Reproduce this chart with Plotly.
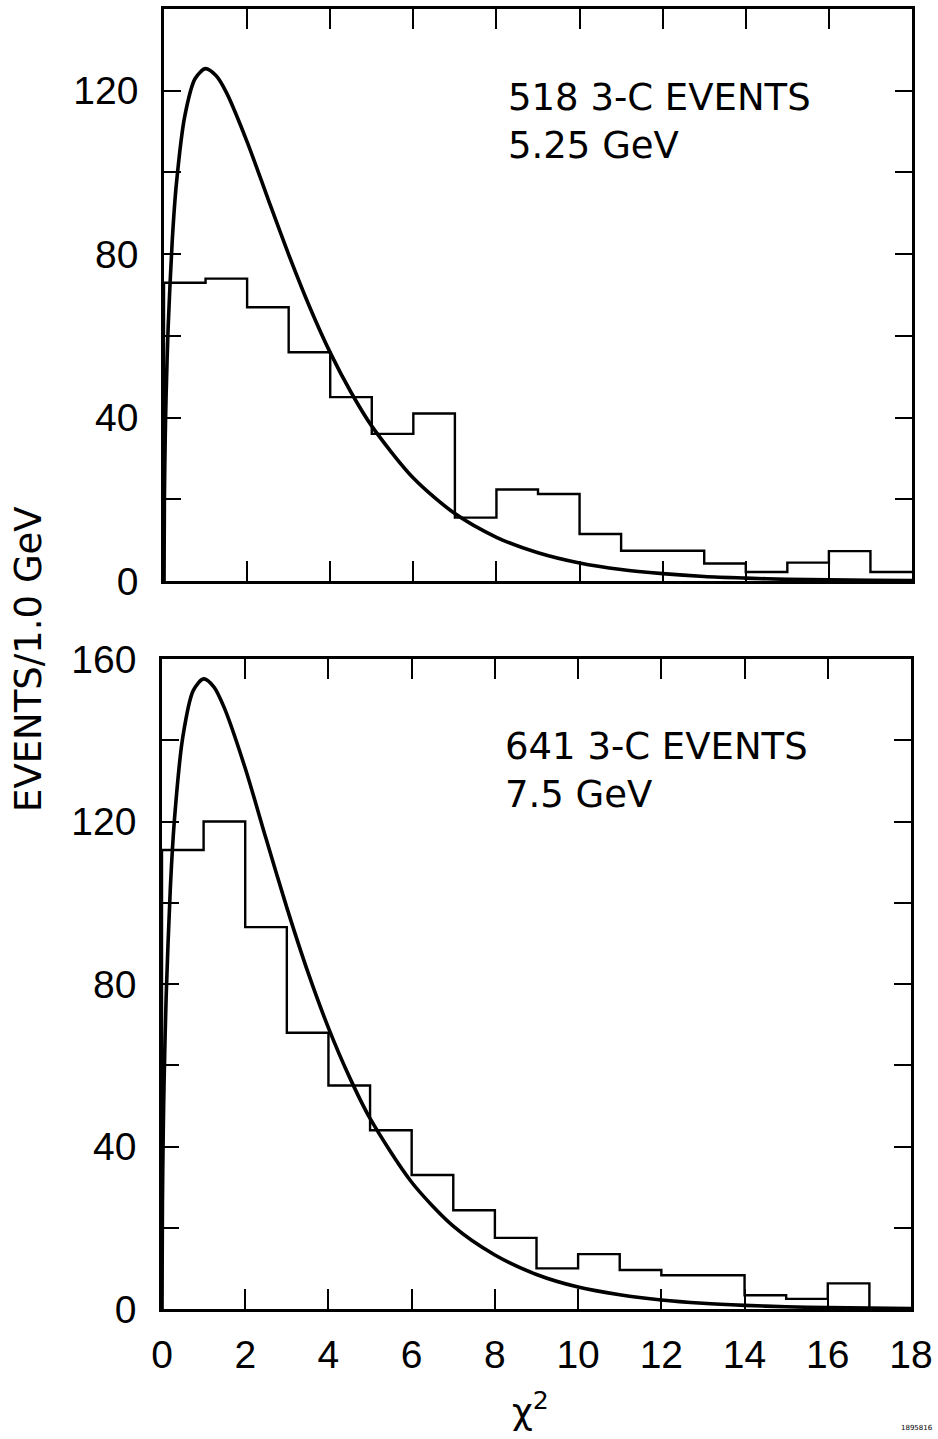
import plotly.graph_objects as go

W, H = 938, 1439

# ---- data ----
bin_edges = list(range(0, 19))
top_counts = [73, 74, 67, 56, 45, 36, 41, 15.5, 22.4, 21.3, 11.5, 7.4, 7.4, 4.3, 2.2, 4.5, 7.3, 2.2]
bottom_counts = [113, 120, 94, 68, 55, 44, 33, 24.3, 17.5, 10, 13.5, 9.6, 8.3, 8.3, 3.4, 2.5, 6.3, 0]

curve_x = [0, 0.01, 0.03, 0.05, 0.1, 0.2, 0.3, 0.5, 0.75, 1.0, 1.25, 1.5, 2, 2.5, 3, 3.5,
           4, 4.5, 5, 6, 7, 8, 9, 10, 11, 12, 13, 14, 15, 16, 17, 18]
top_curve = [0, 20.6, 35.3, 45.1, 62.2, 83.6, 97.4, 113.8, 123.0, 125.4, 123.7, 119.6, 107.5,
             93.6, 79.9, 67.2, 55.9, 46.2, 37.9, 25.2, 16.5, 10.7, 6.9, 4.4, 2.8, 1.8, 1.1,
             0.7, 0.4, 0.3, 0.2, 0.1]
bottom_curve = [0, 25.4, 43.6, 55.8, 76.9, 103.5, 120.6, 140.8, 152.2, 155.1, 153.1, 147.9,
                133.1, 115.8, 98.8, 83.1, 69.2, 57.2, 46.9, 31.2, 20.4, 13.3, 8.5, 5.4, 3.5,
                2.2, 1.4, 0.9, 0.55, 0.34, 0.21, 0.13]

x_ticks = list(range(0, 19, 2))
x_ticktext = [str(v) for v in x_ticks]
top_ylabels = [0, 40, 80, 120]
bottom_ylabels = [0, 40, 80, 120, 160]
y_minor_step = 20

top_label = "518 3-C EVENTS<br>5.25 GeV"
bottom_label = "641 3-C EVENTS<br>7.5 GeV"


def step_xy(edges, counts):
    xs = [edges[0]] + edges[:len(counts)] + [edges[len(counts)]]
    ys = [0] + list(counts) + [counts[-1]]
    return xs, ys


def px_x(p):
    return p / W


def px_y(p):
    return 1 - p / H


fig = go.Figure()

tx, ty = step_xy(bin_edges, top_counts)
fig.add_trace(go.Scatter(x=tx, y=ty, mode="lines", line=dict(shape="hv", color="black", width=2.4),
                         xaxis="x", yaxis="y", showlegend=False))
fig.add_trace(go.Scatter(x=curve_x, y=top_curve, mode="lines",
                         line=dict(shape="spline", smoothing=0.8, color="black", width=3.6),
                         xaxis="x", yaxis="y", showlegend=False))

bx, by = step_xy(bin_edges, bottom_counts)
fig.add_trace(go.Scatter(x=bx, y=by, mode="lines", line=dict(shape="hv", color="black", width=2.4),
                         xaxis="x2", yaxis="y2", showlegend=False))
fig.add_trace(go.Scatter(x=curve_x, y=bottom_curve, mode="lines",
                         line=dict(shape="spline", smoothing=0.8, color="black", width=3.6),
                         xaxis="x2", yaxis="y2", showlegend=False))

tick_font = dict(family="Liberation Sans", size=39, color="black")
axis_common = dict(showline=True, linecolor="black", linewidth=2.5, mirror="ticks",
                   ticks="inside", tickcolor="black", tickwidth=2, showgrid=False,
                   zeroline=False, fixedrange=True, automargin=False)
y_minor = dict(tickmode="linear", tick0=0, dtick=y_minor_step, ticks="inside",
               ticklen=17, tickwidth=2, tickcolor="black", showgrid=False)

fig.update_layout(
    template="none",
    width=W, height=H,
    margin=dict(l=0, r=0, t=0, b=0, pad=0),
    paper_bgcolor="white", plot_bgcolor="white",
    showlegend=False,
    xaxis=dict(axis_common, domain=[px_x(164), px_x(912)], range=[0, 18], anchor="y",
               tickmode="array", tickvals=x_ticks, ticktext=x_ticktext,
               showticklabels=False, ticklen=20),
    yaxis=dict(axis_common, domain=[px_y(581), px_y(9)], range=[0, 140], anchor="x",
               tickmode="array", tickvals=top_ylabels, ticktext=[str(v) for v in top_ylabels],
               ticklen=17, tickfont=tick_font, ticklabelstandoff=15, minor=y_minor),
    xaxis2=dict(axis_common, domain=[px_x(162), px_x(911)], range=[0, 18], anchor="y2",
                tickmode="array", tickvals=x_ticks, ticktext=x_ticktext,
                ticklen=20, tickfont=tick_font, ticklabelstandoff=9),
    yaxis2=dict(axis_common, domain=[px_y(1309), px_y(659)], range=[0, 160], anchor="x2",
                tickmode="array", tickvals=bottom_ylabels,
                ticktext=[str(v) for v in bottom_ylabels],
                ticklen=17, tickfont=tick_font, ticklabelstandoff=15, minor=y_minor),
)

ann_font = dict(family="DejaVu Sans", size=37, color="black")
annotations = [
    dict(text=top_label, x=px_x(506), y=px_y(122), xref="paper", yref="paper",
         xanchor="left", yanchor="middle", align="left", showarrow=False, font=ann_font),
    dict(text=bottom_label, x=px_x(503), y=px_y(771), xref="paper", yref="paper",
         xanchor="left", yanchor="middle", align="left", showarrow=False, font=ann_font),
    dict(text="EVENTS/1.0 GeV", x=px_x(28), y=px_y(659), xref="paper", yref="paper",
         xanchor="center", yanchor="middle", textangle=-90, showarrow=False,
         font=dict(family="DejaVu Sans", size=37, color="black")),
    dict(text="χ<sup>2</sup>", x=px_x(530), y=px_y(1409), xref="paper", yref="paper",
         xanchor="center", yanchor="middle", showarrow=False,
         font=dict(family="DejaVu Sans", size=36, color="black")),
    dict(text="1895816", x=px_x(935), y=px_y(1428), xref="paper", yref="paper",
         xanchor="right", yanchor="middle", showarrow=False,
         font=dict(family="DejaVu Sans", size=7, color="black")),
]
fig.update_layout(annotations=annotations)

fig.write_html("out.html")
